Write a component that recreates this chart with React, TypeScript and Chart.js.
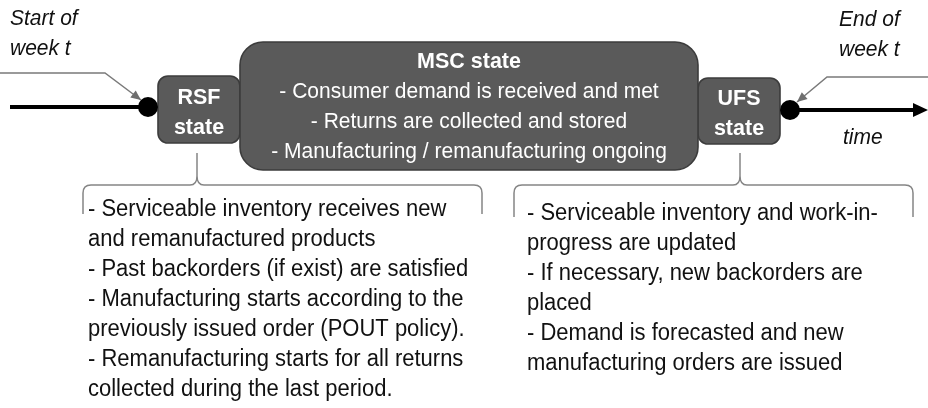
import { useEffect, useRef } from 'react';
import { Chart, registerables } from 'chart.js';

Chart.register(...registerables);

// ---- text content ----
const startLabel = ['Start of', 'week t'];
const endLabel = ['End of', 'week t'];
const timeLabel = ['time'];
const rsfLines = ['RSF', 'state'];
const ufsLines = ['UFS', 'state'];
const mscLines = [
  'MSC state',
  '- Consumer demand is received and met',
  '- Returns are collected and stored',
  '- Manufacturing / remanufacturing ongoing',
];
const rsfNotes = [
  '- Serviceable inventory receives new',
  'and remanufactured products',
  '- Past backorders (if exist) are satisfied',
  '- Manufacturing starts according to the',
  'previously issued order (POUT policy).',
  '- Remanufacturing starts for all returns',
  'collected during the last period.',
];
const ufsNotes = [
  '- Serviceable inventory and work-in-',
  'progress are updated',
  '- If necessary, new backorders are',
  'placed',
  '- Demand is forecasted and new',
  'manufacturing orders are issued',
];

// ---- diagram geometry (in scale units) ----
const timelineIn = [{ x: 10, y: 107 }, { x: 148, y: 107 }];
const timelineOut = [{ x: 790, y: 110 }, { x: 916, y: 110 }];
const timeTip = [{ x: 928, y: 110 }];
const eventPoints = [{ x: 148, y: 107 }, { x: 790, y: 110 }];
const startLeader = [{ x: 0, y: 73 }, { x: 105, y: 73 }, { x: 141, y: 100 }];
const endLeader = [{ x: 928, y: 77 }, { x: 827, y: 77 }, { x: 797, y: 102 }];

const FONT = '"Liberation Sans", Arial, Helvetica, sans-serif';

export default function App() {
  const ref = useRef<HTMLCanvasElement>(null);

  useEffect(() => {
    document.body.style.margin = '0';
    const canvas = ref.current;
    if (!canvas) return;

    const boxes = [
      { x0: 158, y0: 76, x1: 240, y1: 143, r: 10, lines: rsfLines, cx: 199, base: 104, step: 30, bold: [true, true] },
      { x0: 698, y0: 78, x1: 780, y1: 144, r: 10, lines: ufsLines, cx: 739, base: 105, step: 30, bold: [true, true] },
      { x0: 240, y0: 42, x1: 698, y1: 170, r: 23, lines: mscLines, cx: 469, base: 68, step: 30, bold: [true, false, false, false] },
    ];

    const braces = [
      { xL: 83, xR: 482, xC: 197, yH: 185, yEnd: 214, yPeak: 153 },
      { xL: 514, xR: 913, xC: 740, yH: 185, yEnd: 217, yPeak: 153 },
    ];

    const textBlocks = [
      { lines: startLabel, x: 10, base: 25, step: 30, font: `italic 21px ${FONT}`, color: '#111' },
      { lines: endLabel, x: 839, base: 26, step: 30, font: `italic 21px ${FONT}`, color: '#111' },
      { lines: timeLabel, x: 843, base: 144, step: 30, font: `italic 21px ${FONT}`, color: '#111' },
      { lines: rsfNotes, x: 88, base: 216, step: 30, font: `22px ${FONT}`, color: '#111' },
      { lines: ufsNotes, x: 527, base: 220, step: 30, font: `22px ${FONT}`, color: '#111' },
    ];

    const STRETCH = 1.06;

    const diagram = {
      id: 'diagram',
      beforeDatasetsDraw(chart: any) {
        const { ctx, scales } = chart;
        const X = (v: number) => scales.x.getPixelForValue(v);
        const Y = (v: number) => scales.y.getPixelForValue(v);
        const text = (t: string, x: number, y: number) => {
          ctx.save();
          ctx.translate(x, y);
          ctx.scale(1, STRETCH);
          ctx.fillText(t, 0, 0);
          ctx.restore();
        };
        ctx.save();
        // braces
        ctx.strokeStyle = '#858585';
        ctx.lineWidth = 1.5;
        braces.forEach((b) => {
          const xL = X(b.xL), xR = X(b.xR), xC = X(b.xC);
          const yH = Y(b.yH), yE = Y(b.yEnd), yP = Y(b.yPeak);
          ctx.beginPath();
          ctx.moveTo(xL, yE);
          ctx.lineTo(xL, yH + 8);
          ctx.quadraticCurveTo(xL, yH, xL + 8, yH);
          ctx.lineTo(xC - 7, yH);
          ctx.quadraticCurveTo(xC, yH, xC, yH - 9);
          ctx.lineTo(xC, yP);
          ctx.moveTo(xC, yH - 9);
          ctx.quadraticCurveTo(xC, yH, xC + 7, yH);
          ctx.lineTo(xR - 8, yH);
          ctx.quadraticCurveTo(xR, yH, xR, yH + 8);
          ctx.lineTo(xR, yE);
          ctx.stroke();
        });
        // boxes
        boxes.forEach((b) => {
          const x0 = X(b.x0), y0 = Y(b.y0), x1 = X(b.x1), y1 = Y(b.y1);
          ctx.beginPath();
          ctx.roundRect(x0, y0, x1 - x0, y1 - y0, b.r);
          ctx.fillStyle = '#5a5a5a';
          ctx.fill();
          ctx.strokeStyle = '#3c3c3c';
          ctx.lineWidth = 1.6;
          ctx.stroke();
        });
        boxes.forEach((b) => {
          ctx.fillStyle = '#ffffff';
          ctx.textAlign = 'center';
          ctx.textBaseline = 'alphabetic';
          b.lines.forEach((t, i) => {
            ctx.font = b.bold[i] ? `bold 21.5px ${FONT}` : `21px ${FONT}`;
            text(t, X(b.cx), Y(b.base + i * b.step));
          });
        });
        // text blocks
        textBlocks.forEach((tb) => {
          ctx.fillStyle = tb.color;
          ctx.textAlign = 'left';
          ctx.textBaseline = 'alphabetic';
          ctx.font = tb.font;
          tb.lines.forEach((t, i) => text(t, X(tb.x), Y(tb.base + i * tb.step)));
        });
        ctx.restore();
      },
      afterDatasetsDraw(chart: any) {
        const { ctx, scales } = chart;
        const X = (v: number) => scales.x.getPixelForValue(v);
        const Y = (v: number) => scales.y.getPixelForValue(v);
        const head = (from: { x: number; y: number }, to: { x: number; y: number }, len: number, half: number, color: string) => {
          const fx = X(from.x), fy = Y(from.y), tx = X(to.x), ty = Y(to.y);
          const a = Math.atan2(ty - fy, tx - fx);
          ctx.save();
          ctx.translate(tx, ty);
          ctx.rotate(a);
          ctx.beginPath();
          ctx.moveTo(0, 0);
          ctx.lineTo(-len, -half);
          ctx.lineTo(-len, half);
          ctx.closePath();
          ctx.fillStyle = color;
          ctx.fill();
          ctx.restore();
        };
        head(startLeader[1], startLeader[2], 10, 4.5, '#6e6e6e');
        head(endLeader[1], endLeader[2], 10, 4.5, '#6e6e6e');
        head(timelineOut[0], timeTip[0], 15, 7, '#000000');
      },
    };

    const lineDs = (data: any[], color: string, width: number) => ({
      type: 'line' as const,
      data,
      borderColor: color,
      borderWidth: width,
      pointRadius: 0,
      fill: false,
      tension: 0,
      showLine: true,
    });

    const chart = new Chart(canvas, {
      type: 'scatter',
      data: {
        datasets: [
          lineDs(timelineIn, '#000000', 4),
          lineDs(timelineOut, '#000000', 4),
          lineDs(startLeader, '#7a7a7a', 1.5),
          lineDs(endLeader, '#7a7a7a', 1.5),
          {
            type: 'scatter' as const,
            data: eventPoints,
            pointRadius: 10,
            pointBackgroundColor: '#000000',
            pointBorderColor: '#000000',
            pointBorderWidth: 0,
          },
        ] as any,
      },
      options: {
        responsive: false,
        animation: false,
        events: [],
        layout: { padding: 0, autoPadding: false },
        plugins: { legend: { display: false }, tooltip: { enabled: false } },
        scales: {
          x: { type: 'linear', min: 0, max: 928, display: false },
          y: { type: 'linear', min: 0, max: 408, reverse: true, display: false },
        },
      },
      plugins: [diagram],
    });
    return () => chart.destroy();
  }, []);

  return (
    <div style={{ width: 928, height: 408, background: '#ffffff' }}>
      <canvas ref={ref} width={928} height={408} style={{ display: 'block' }} />
    </div>
  );
}
